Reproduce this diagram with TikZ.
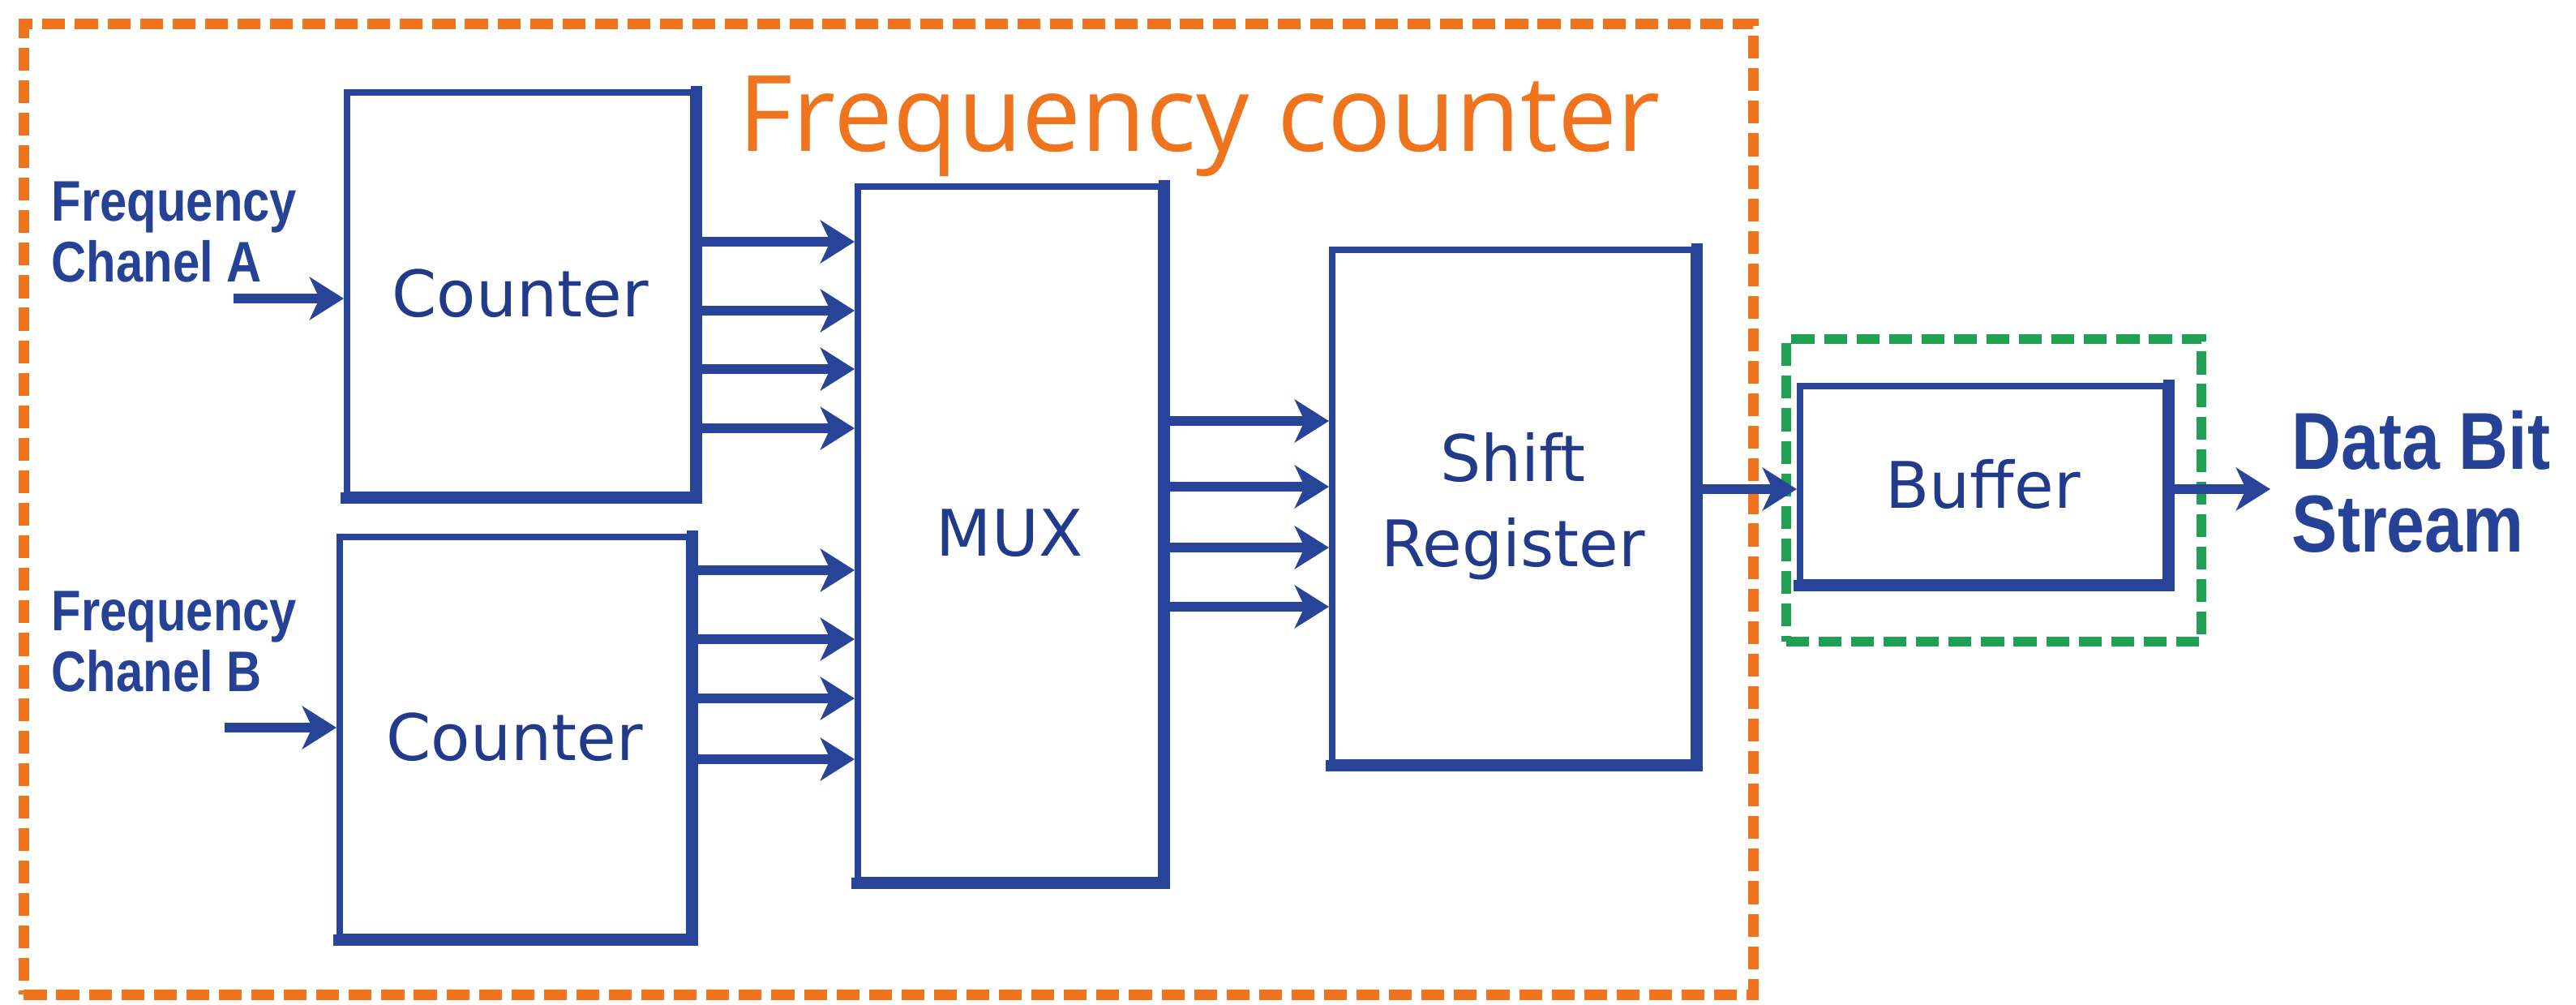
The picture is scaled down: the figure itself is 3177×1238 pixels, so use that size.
\documentclass[tikz,border=0pt]{standalone}
\usepackage{fontspec}
\usepackage{graphicx}
\usetikzlibrary{arrows.meta}
\newfontfamily\boxfont{DejaVu Sans}
\newfontfamily\titlefont{Open Sans}
\newfontfamily\lblfont{Liberation Sans}
\definecolor{navy}{RGB}{33,58,138}
\definecolor{lineblue}{RGB}{40,68,152}
\definecolor{lblblue}{RGB}{38,66,150}
\definecolor{orng}{RGB}{240,115,30}
\definecolor{grn}{RGB}{32,160,82}
\newcommand{\tallword}[1]{\scalebox{1}[1.18]{#1}}
\begin{document}
\begin{tikzpicture}[x=0.01cm,y=-0.01cm,
  blk/.style={draw=lineblue, line width=2.2pt, inner sep=0pt, text=navy,
    font=\boxfont\fontsize{22.5}{30}\selectfont, align=center},
  heavy/.style={draw=lineblue, line width=4pt, line cap=butt, line join=miter},
  arr/.style={draw=lineblue, line width=3.2pt, -{Stealth[length=12pt,width=15pt,inset=3.5pt]}},
  lbl/.style={text=lblblue, font=\lblfont\bfseries\fontsize{17}{21.3}\selectfont,
    align=left, inner sep=0pt, anchor=base west},
  frame/.style={inner sep=0pt, line width=3.6pt, dash pattern=on 8pt off 3.4pt}
]
\useasboundingbox (0,0) rectangle (3177,1238);
\fill[white] (0,0) rectangle (3177,1238);

% containers
\node[frame, draw=orng, minimum width=21.32cm, minimum height=11.96cm] (fc) at (1096,628) {};
\node[frame, draw=grn, minimum width=5.12cm, minimum height=3.73cm] (gb) at (2459,604.5) {};

\node[anchor=base west, inner sep=0pt, text=orng,
  font=\titlefont\fontsize{37}{44}\selectfont] (title) at (910,186) {Frequency counter};

% blocks
\node[blk, minimum width=4.27cm, minimum height=4.96cm] (cA) at (641.5,362) {Counter};
\node[blk, minimum width=4.31cm, minimum height=4.93cm] (cB) at (634.5,908.5) {Counter};
\node[blk, minimum width=3.74cm, minimum height=8.55cm] (mux) at (1245,657.5) {MUX};
\node[blk, minimum width=4.46cm, minimum height=6.32cm] (sr) at (1866,624) {Shift\\Register};
\node[blk, minimum width=4.51cm, minimum height=2.42cm] (buf) at (2445.5,597) {Buffer};

\foreach \n in {cA,cB,mux,sr,buf}
  \draw[heavy] ([xshift=-1.1pt]\n.south west) -- (\n.south east) -- ([yshift=1.1pt]\n.north east);

% labels (base anchor = baseline of the last line)
\node[lbl] (inAlbl) at (63,347) {\tallword{Frequency}\\\tallword{Chanel A}};
\node[lbl] (inBlbl) at (63,852) {\tallword{Frequency}\\\tallword{Chanel B}};
\node[lbl, font=\lblfont\bfseries\fontsize{24}{29}\selectfont] (outlbl) at (2826,680)
  {\tallword{Data Bit}\\\tallword{Stream}};

% inputs
\coordinate (inA) at (288,368);
\coordinate (inB) at (277,897);
\draw[arr] (inA) -- (inA -| cA.west);
\draw[arr] (inB) -- (inB -| cB.west);

% counters -> mux
\foreach \yy in {298,383,455,528}
  \draw[arr] (cA.east |- 0,\yy) -- (mux.west |- 0,\yy);
\foreach \yy in {703,788,861,936}
  \draw[arr] (cB.east |- 0,\yy) -- (mux.west |- 0,\yy);

% mux -> shift register
\foreach \yy in {519,600,675,748}
  \draw[arr] (mux.east |- 0,\yy) -- (sr.west |- 0,\yy);

% shift register -> buffer -> out
\coordinate (out) at (2800,603);
\draw[arr] (sr.east |- out) -- (buf.west |- out);
\draw[arr] (buf.east |- out) -- (out);
\end{tikzpicture}
\end{document}
